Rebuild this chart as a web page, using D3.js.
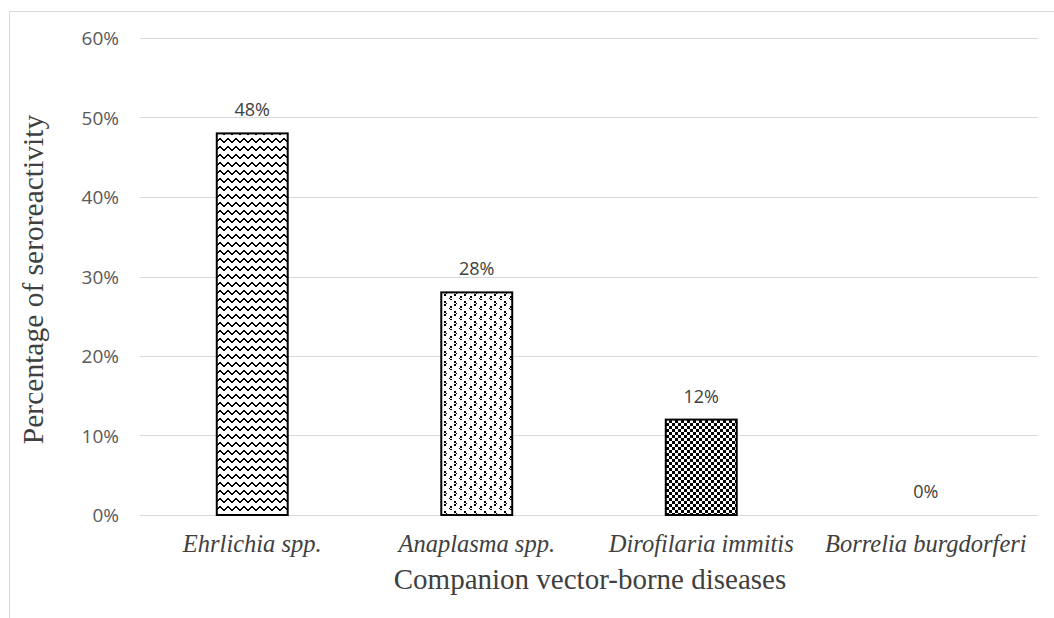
<!DOCTYPE html>
<html>
<head>
<meta charset="utf-8">
<script src="https://cdn.jsdelivr.net/npm/d3@7"></script>
<style>
  html, body { margin: 0; padding: 0; background: #ffffff; }
  svg { display: block; }
</style>
</head>
<body>
<svg id="chart" width="1054" height="618"></svg>
<script>
// Seroreactivity to companion vector-borne pathogens
const categories = ["Ehrlichia spp.", "Anaplasma spp.", "Dirofilaria immitis", "Borrelia burgdorferi"];
const values = [0.48, 0.28, 0.12, 0.00];
const fills = ["wave", "divot", "checker", "none"];
const yTicks = [0, 0.1, 0.2, 0.3, 0.4, 0.5, 0.6];
const yTitle = "Percentage of seroreactivity";
const xTitle = "Companion vector-borne diseases";

const W = 1054, H = 618;
const plot = { left: 140, right: 1038, top: 38, bottom: 515 };

const svg = d3.select("#chart");

// Outer chart-area frame
svg.append("rect")
  .attr("x", 9.5).attr("y", 11.5)
  .attr("width", 1200).attr("height", 800)
  .attr("fill", "#ffffff")
  .attr("stroke", "#d9d9d9").attr("stroke-width", 1);

// Hatch patterns for the bars
const defs = svg.append("defs");

function pixelPattern(id, size, cells, bg, fg) {
  const p = defs.append("pattern")
    .attr("id", id)
    .attr("patternUnits", "userSpaceOnUse")
    .attr("width", size).attr("height", size);
  p.append("rect").attr("width", size).attr("height", size).attr("fill", bg);
  p.selectAll("rect.px").data(cells).join("rect")
    .attr("class", "px")
    .attr("x", d => d[0]).attr("y", d => d[1])
    .attr("width", d => d[2] || 1).attr("height", d => d[3] || 1)
    .attr("fill", fg)
    .attr("shape-rendering", "crispEdges");
  return p;
}

// wave: a 2px-thick zigzag line per 8px row
const waveY = [5, 4, 3, 2, 2, 3, 4, 5];
pixelPattern("wave", 8, waveY.map((y, x) => [x, y, 1, 2]), "#ffffff", "#000000");

// divot: small < > marks
pixelPattern("divot", 10,
  [[4, 1], [5.5, 2.5], [4, 4], [0, 6], [8.5, 7.5], [0, 9]].map(d => [d[0], d[1], 1.5, 1.5]),
  "#ffffff", "#000000");

// small checkerboard
pixelPattern("checker", 6,
  [[0, 0, 3, 3], [3, 3, 3, 3]],
  "#000000", "#ffffff");

// Scales
const x = d3.scaleBand()
  .domain(categories)
  .range([plot.left, plot.right])
  .paddingInner(0.684)
  .paddingOuter(0.342);

const y = d3.scaleLinear()
  .domain([0, 0.6])
  .range([plot.bottom, plot.top]);

// Horizontal gridlines
svg.append("g")
  .selectAll("line")
  .data(yTicks)
  .join("line")
  .attr("x1", plot.left).attr("x2", plot.right)
  .attr("y1", d => Math.round(y(d)) + 0.5)
  .attr("y2", d => Math.round(y(d)) + 0.5)
  .attr("stroke", "#d9d9d9")
  .attr("stroke-width", 1);

// Y axis tick labels
const yAxis = d3.axisLeft(y)
  .tickValues(yTicks)
  .tickFormat(d3.format(".0%"))
  .tickSize(0)
  .tickPadding(0);

const yAxisG = svg.append("g")
  .attr("transform", `translate(119,0)`)
  .call(yAxis);
yAxisG.select(".domain").remove();
yAxisG.selectAll("text")
  .attr("font-family", "'Open Sans', sans-serif")
  .attr("font-size", 19)
  .attr("fill", "#595959")
  .attr("dy", "0.35em");

// Bars
svg.append("g")
  .selectAll("rect")
  .data(categories.map((c, i) => ({ c, v: values[i], f: fills[i] })))
  .join("rect")
  .attr("x", d => x(d.c))
  .attr("y", d => y(d.v))
  .attr("width", x.bandwidth())
  .attr("height", d => y(0) - y(d.v))
  .attr("fill", d => d.f === "none" ? "none" : `url(#${d.f})`)
  .attr("stroke", d => d.v > 0 ? "#000000" : "none")
  .attr("stroke-width", 2);

// Value labels
svg.append("g")
  .selectAll("text")
  .data(categories.map((c, i) => ({ c, v: values[i] })))
  .join("text")
  .attr("x", d => x(d.c) + x.bandwidth() / 2)
  .attr("y", d => y(d.v) - 17)
  .attr("text-anchor", "middle")
  .attr("font-family", "'Open Sans', sans-serif")
  .attr("font-size", 18)
  .attr("fill", "#404040")
  .text(d => d3.format(".0%")(d.v));

// Category labels (italic serif)
const xAxis = d3.axisBottom(x).tickSize(0).tickPadding(0);
const xAxisG = svg.append("g")
  .attr("transform", `translate(0,${plot.bottom})`)
  .call(xAxis);
xAxisG.select(".domain").remove();
xAxisG.selectAll("text")
  .attr("y", 37)
  .attr("dy", 0)
  .attr("font-family", "'Liberation Serif', 'Times New Roman', serif")
  .attr("font-style", "italic")
  .attr("font-size", 24.5)
  .attr("fill", "#404040");

// Axis titles
svg.append("text")
  .attr("x", 590)
  .attr("y", 589)
  .attr("text-anchor", "middle")
  .attr("font-family", "'Liberation Serif', 'Times New Roman', serif")
  .attr("font-size", 29)
  .attr("fill", "#404040")
  .text(xTitle);

svg.append("text")
  .attr("transform", `translate(43,${(plot.top + plot.bottom) / 2 + 3}) rotate(-90)`)
  .attr("text-anchor", "middle")
  .attr("font-family", "'Liberation Serif', 'Times New Roman', serif")
  .attr("font-size", 29.5)
  .attr("fill", "#404040")
  .text(yTitle);
</script>
</body>
</html>
